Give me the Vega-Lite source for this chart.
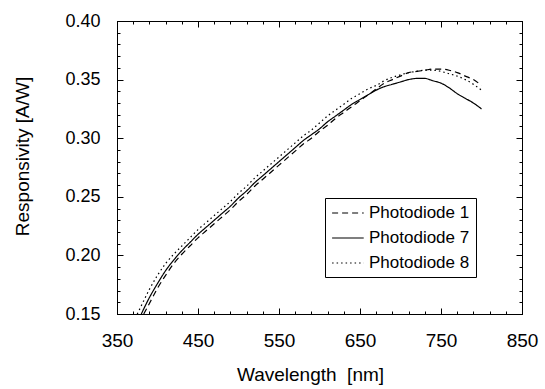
{
  "$schema": "https://vega.github.io/schema/vega-lite/v6.json",
  "width": 405,
  "height": 293,
  "autosize": {"type": "none"},
  "padding": {"left": 117, "top": 21, "right": 23, "bottom": 75},
  "background": "white",
  "config": {
    "view": {"stroke": "black", "strokeWidth": 1},
    "font": "Liberation Sans",
    "axis": {"domainColor": "black", "tickColor": "black", "labelColor": "black", "titleColor": "black", "grid": false, "titleFontWeight": "normal", "labelFont": "Liberation Sans", "titleFont": "Liberation Sans", "domainWidth": 1, "tickWidth": 1}
  },
  "data": {"values": [
    {"series": "Photodiode 7", "wavelength": 380, "responsivity": 0.150},
    {"series": "Photodiode 7", "wavelength": 390, "responsivity": 0.164},
    {"series": "Photodiode 7", "wavelength": 400, "responsivity": 0.176},
    {"series": "Photodiode 7", "wavelength": 410, "responsivity": 0.187},
    {"series": "Photodiode 7", "wavelength": 420, "responsivity": 0.196},
    {"series": "Photodiode 7", "wavelength": 430, "responsivity": 0.204},
    {"series": "Photodiode 7", "wavelength": 440, "responsivity": 0.211},
    {"series": "Photodiode 7", "wavelength": 450, "responsivity": 0.218},
    {"series": "Photodiode 7", "wavelength": 460, "responsivity": 0.224},
    {"series": "Photodiode 7", "wavelength": 470, "responsivity": 0.230},
    {"series": "Photodiode 7", "wavelength": 480, "responsivity": 0.236},
    {"series": "Photodiode 7", "wavelength": 490, "responsivity": 0.242},
    {"series": "Photodiode 7", "wavelength": 500, "responsivity": 0.249},
    {"series": "Photodiode 7", "wavelength": 510, "responsivity": 0.255},
    {"series": "Photodiode 7", "wavelength": 520, "responsivity": 0.262},
    {"series": "Photodiode 7", "wavelength": 530, "responsivity": 0.268},
    {"series": "Photodiode 7", "wavelength": 540, "responsivity": 0.274},
    {"series": "Photodiode 7", "wavelength": 550, "responsivity": 0.280},
    {"series": "Photodiode 7", "wavelength": 560, "responsivity": 0.286},
    {"series": "Photodiode 7", "wavelength": 570, "responsivity": 0.292},
    {"series": "Photodiode 7", "wavelength": 580, "responsivity": 0.298},
    {"series": "Photodiode 7", "wavelength": 590, "responsivity": 0.303},
    {"series": "Photodiode 7", "wavelength": 600, "responsivity": 0.308},
    {"series": "Photodiode 7", "wavelength": 610, "responsivity": 0.314},
    {"series": "Photodiode 7", "wavelength": 620, "responsivity": 0.319},
    {"series": "Photodiode 7", "wavelength": 630, "responsivity": 0.324},
    {"series": "Photodiode 7", "wavelength": 640, "responsivity": 0.329},
    {"series": "Photodiode 7", "wavelength": 650, "responsivity": 0.333},
    {"series": "Photodiode 7", "wavelength": 660, "responsivity": 0.337},
    {"series": "Photodiode 7", "wavelength": 670, "responsivity": 0.341},
    {"series": "Photodiode 7", "wavelength": 680, "responsivity": 0.344},
    {"series": "Photodiode 7", "wavelength": 690, "responsivity": 0.346},
    {"series": "Photodiode 7", "wavelength": 700, "responsivity": 0.348},
    {"series": "Photodiode 7", "wavelength": 710, "responsivity": 0.350},
    {"series": "Photodiode 7", "wavelength": 720, "responsivity": 0.351},
    {"series": "Photodiode 7", "wavelength": 730, "responsivity": 0.351},
    {"series": "Photodiode 7", "wavelength": 740, "responsivity": 0.349},
    {"series": "Photodiode 7", "wavelength": 750, "responsivity": 0.347},
    {"series": "Photodiode 7", "wavelength": 760, "responsivity": 0.343},
    {"series": "Photodiode 7", "wavelength": 770, "responsivity": 0.338},
    {"series": "Photodiode 7", "wavelength": 780, "responsivity": 0.334},
    {"series": "Photodiode 7", "wavelength": 790, "responsivity": 0.330},
    {"series": "Photodiode 7", "wavelength": 800, "responsivity": 0.325},
    {"series": "Photodiode 1", "wavelength": 383, "responsivity": 0.150},
    {"series": "Photodiode 1", "wavelength": 390, "responsivity": 0.159},
    {"series": "Photodiode 1", "wavelength": 400, "responsivity": 0.172},
    {"series": "Photodiode 1", "wavelength": 410, "responsivity": 0.183},
    {"series": "Photodiode 1", "wavelength": 420, "responsivity": 0.193},
    {"series": "Photodiode 1", "wavelength": 430, "responsivity": 0.201},
    {"series": "Photodiode 1", "wavelength": 440, "responsivity": 0.208},
    {"series": "Photodiode 1", "wavelength": 450, "responsivity": 0.215},
    {"series": "Photodiode 1", "wavelength": 460, "responsivity": 0.221},
    {"series": "Photodiode 1", "wavelength": 470, "responsivity": 0.227},
    {"series": "Photodiode 1", "wavelength": 480, "responsivity": 0.233},
    {"series": "Photodiode 1", "wavelength": 490, "responsivity": 0.239},
    {"series": "Photodiode 1", "wavelength": 500, "responsivity": 0.246},
    {"series": "Photodiode 1", "wavelength": 510, "responsivity": 0.252},
    {"series": "Photodiode 1", "wavelength": 520, "responsivity": 0.259},
    {"series": "Photodiode 1", "wavelength": 530, "responsivity": 0.265},
    {"series": "Photodiode 1", "wavelength": 540, "responsivity": 0.271},
    {"series": "Photodiode 1", "wavelength": 550, "responsivity": 0.277},
    {"series": "Photodiode 1", "wavelength": 560, "responsivity": 0.283},
    {"series": "Photodiode 1", "wavelength": 570, "responsivity": 0.289},
    {"series": "Photodiode 1", "wavelength": 580, "responsivity": 0.295},
    {"series": "Photodiode 1", "wavelength": 590, "responsivity": 0.300},
    {"series": "Photodiode 1", "wavelength": 600, "responsivity": 0.306},
    {"series": "Photodiode 1", "wavelength": 610, "responsivity": 0.311},
    {"series": "Photodiode 1", "wavelength": 620, "responsivity": 0.317},
    {"series": "Photodiode 1", "wavelength": 630, "responsivity": 0.322},
    {"series": "Photodiode 1", "wavelength": 640, "responsivity": 0.327},
    {"series": "Photodiode 1", "wavelength": 650, "responsivity": 0.332},
    {"series": "Photodiode 1", "wavelength": 660, "responsivity": 0.337},
    {"series": "Photodiode 1", "wavelength": 670, "responsivity": 0.342},
    {"series": "Photodiode 1", "wavelength": 680, "responsivity": 0.347},
    {"series": "Photodiode 1", "wavelength": 690, "responsivity": 0.350},
    {"series": "Photodiode 1", "wavelength": 700, "responsivity": 0.353},
    {"series": "Photodiode 1", "wavelength": 710, "responsivity": 0.356},
    {"series": "Photodiode 1", "wavelength": 720, "responsivity": 0.357},
    {"series": "Photodiode 1", "wavelength": 730, "responsivity": 0.358},
    {"series": "Photodiode 1", "wavelength": 740, "responsivity": 0.359},
    {"series": "Photodiode 1", "wavelength": 750, "responsivity": 0.359},
    {"series": "Photodiode 1", "wavelength": 760, "responsivity": 0.358},
    {"series": "Photodiode 1", "wavelength": 770, "responsivity": 0.356},
    {"series": "Photodiode 1", "wavelength": 780, "responsivity": 0.353},
    {"series": "Photodiode 1", "wavelength": 790, "responsivity": 0.350},
    {"series": "Photodiode 1", "wavelength": 800, "responsivity": 0.345},
    {"series": "Photodiode 8", "wavelength": 375, "responsivity": 0.150},
    {"series": "Photodiode 8", "wavelength": 380, "responsivity": 0.157},
    {"series": "Photodiode 8", "wavelength": 390, "responsivity": 0.171},
    {"series": "Photodiode 8", "wavelength": 400, "responsivity": 0.183},
    {"series": "Photodiode 8", "wavelength": 410, "responsivity": 0.193},
    {"series": "Photodiode 8", "wavelength": 420, "responsivity": 0.201},
    {"series": "Photodiode 8", "wavelength": 430, "responsivity": 0.208},
    {"series": "Photodiode 8", "wavelength": 440, "responsivity": 0.215},
    {"series": "Photodiode 8", "wavelength": 450, "responsivity": 0.222},
    {"series": "Photodiode 8", "wavelength": 460, "responsivity": 0.228},
    {"series": "Photodiode 8", "wavelength": 470, "responsivity": 0.234},
    {"series": "Photodiode 8", "wavelength": 480, "responsivity": 0.240},
    {"series": "Photodiode 8", "wavelength": 490, "responsivity": 0.246},
    {"series": "Photodiode 8", "wavelength": 500, "responsivity": 0.253},
    {"series": "Photodiode 8", "wavelength": 510, "responsivity": 0.259},
    {"series": "Photodiode 8", "wavelength": 520, "responsivity": 0.266},
    {"series": "Photodiode 8", "wavelength": 530, "responsivity": 0.272},
    {"series": "Photodiode 8", "wavelength": 540, "responsivity": 0.278},
    {"series": "Photodiode 8", "wavelength": 550, "responsivity": 0.284},
    {"series": "Photodiode 8", "wavelength": 560, "responsivity": 0.290},
    {"series": "Photodiode 8", "wavelength": 570, "responsivity": 0.296},
    {"series": "Photodiode 8", "wavelength": 580, "responsivity": 0.302},
    {"series": "Photodiode 8", "wavelength": 590, "responsivity": 0.307},
    {"series": "Photodiode 8", "wavelength": 600, "responsivity": 0.313},
    {"series": "Photodiode 8", "wavelength": 610, "responsivity": 0.319},
    {"series": "Photodiode 8", "wavelength": 620, "responsivity": 0.324},
    {"series": "Photodiode 8", "wavelength": 630, "responsivity": 0.329},
    {"series": "Photodiode 8", "wavelength": 640, "responsivity": 0.334},
    {"series": "Photodiode 8", "wavelength": 650, "responsivity": 0.338},
    {"series": "Photodiode 8", "wavelength": 660, "responsivity": 0.342},
    {"series": "Photodiode 8", "wavelength": 670, "responsivity": 0.345},
    {"series": "Photodiode 8", "wavelength": 680, "responsivity": 0.349},
    {"series": "Photodiode 8", "wavelength": 690, "responsivity": 0.352},
    {"series": "Photodiode 8", "wavelength": 700, "responsivity": 0.354},
    {"series": "Photodiode 8", "wavelength": 710, "responsivity": 0.356},
    {"series": "Photodiode 8", "wavelength": 720, "responsivity": 0.357},
    {"series": "Photodiode 8", "wavelength": 730, "responsivity": 0.358},
    {"series": "Photodiode 8", "wavelength": 740, "responsivity": 0.358},
    {"series": "Photodiode 8", "wavelength": 750, "responsivity": 0.357},
    {"series": "Photodiode 8", "wavelength": 760, "responsivity": 0.355},
    {"series": "Photodiode 8", "wavelength": 770, "responsivity": 0.353},
    {"series": "Photodiode 8", "wavelength": 780, "responsivity": 0.350},
    {"series": "Photodiode 8", "wavelength": 790, "responsivity": 0.346},
    {"series": "Photodiode 8", "wavelength": 800, "responsivity": 0.341}
  ]},
  "layer": [
    {
      "mark": {"type": "line", "color": "black", "strokeWidth": 1.2, "interpolate": "monotone", "clip": true},
      "encoding": {
        "x": {"field": "wavelength", "type": "quantitative",
          "scale": {"domain": [350, 850], "nice": false, "zero": false},
          "axis": {"orient": "bottom", "values": [350, 450, 550, 650, 750, 850], "tickSize": -6, "labelPadding": 23, "labelFontSize": 19, "labelFlush": false, "title": "Wavelength\u00a0 [nm]", "titleFontSize": 19, "titleX": 193, "titleY": 60, "titleBaseline": "middle", "titleAlign": "center"}},
        "y": {"field": "responsivity", "type": "quantitative",
          "scale": {"domain": [0.15, 0.40], "nice": false, "zero": false},
          "axis": {"orient": "left", "values": [0.15, 0.2, 0.25, 0.3, 0.35, 0.4], "format": ".2f", "tickSize": -6, "labelPadding": 23, "labelFontSize": 18, "labelFlush": false, "title": "Responsivity [A/W]", "titleFontSize": 19, "titleX": -95, "titleY": 135, "titleBaseline": "middle", "titleAlign": "center", "titleAngle": 270}},
        "strokeDash": {"field": "series", "type": "nominal",
          "scale": {"domain": ["Photodiode 1", "Photodiode 7", "Photodiode 8"], "range": [[6, 4], [1, 0], [1.5, 3]]},
          "legend": {"title": null, "orient": "none", "legendX": 208, "legendY": 177, "strokeColor": "black", "fillColor": "white", "padding": 6, "symbolType": "M-1,0H3", "symbolSize": 250, "symbolStrokeColor": "black", "symbolStrokeWidth": 1.2, "symbolFillColor": "transparent", "labelFontSize": 17, "labelFont": "Liberation Sans", "labelColor": "black", "labelOffset": 20, "rowPadding": 8}}
      }
    },
    {
      "mark": {"type": "line", "opacity": 0},
      "encoding": {
        "x": {"field": "wavelength", "type": "quantitative", "axis": {"orient": "top", "values": [350, 450, 550, 650, 750, 850], "tickSize": -6, "labels": false, "title": null}},
        "y": {"field": "responsivity", "type": "quantitative", "axis": {"orient": "right", "values": [0.15, 0.2, 0.25, 0.3, 0.35, 0.4], "tickSize": -6, "labels": false, "title": null}},
        "detail": {"field": "series"}
      }
    },
    {
      "mark": {"type": "line", "opacity": 0},
      "encoding": {
        "x": {"field": "wavelength", "type": "quantitative", "axis": {"orient": "bottom", "values": [350, 370, 390, 410, 430, 450, 470, 490, 510, 530, 550, 570, 590, 610, 630, 650, 670, 690, 710, 730, 750, 770, 790, 810, 830, 850], "tickSize": -3, "labels": false, "title": null}},
        "y": {"field": "responsivity", "type": "quantitative", "axis": {"orient": "left", "values": [0.15, 0.16, 0.17, 0.18, 0.19, 0.2, 0.21, 0.22, 0.23, 0.24, 0.25, 0.26, 0.27, 0.28, 0.29, 0.3, 0.31, 0.32, 0.33, 0.34, 0.35, 0.36, 0.37, 0.38, 0.39, 0.4], "tickSize": -3, "labels": false, "title": null}},
        "detail": {"field": "series"}
      }
    },
    {
      "mark": {"type": "line", "opacity": 0},
      "encoding": {
        "x": {"field": "wavelength", "type": "quantitative", "axis": {"orient": "top", "values": [350, 370, 390, 410, 430, 450, 470, 490, 510, 530, 550, 570, 590, 610, 630, 650, 670, 690, 710, 730, 750, 770, 790, 810, 830, 850], "tickSize": -3, "labels": false, "title": null}},
        "y": {"field": "responsivity", "type": "quantitative", "axis": {"orient": "right", "values": [0.15, 0.16, 0.17, 0.18, 0.19, 0.2, 0.21, 0.22, 0.23, 0.24, 0.25, 0.26, 0.27, 0.28, 0.29, 0.3, 0.31, 0.32, 0.33, 0.34, 0.35, 0.36, 0.37, 0.38, 0.39, 0.4], "tickSize": -3, "labels": false, "title": null}},
        "detail": {"field": "series"}
      }
    }
  ],
  "resolve": {"axis": {"x": "independent", "y": "independent"}}
}
